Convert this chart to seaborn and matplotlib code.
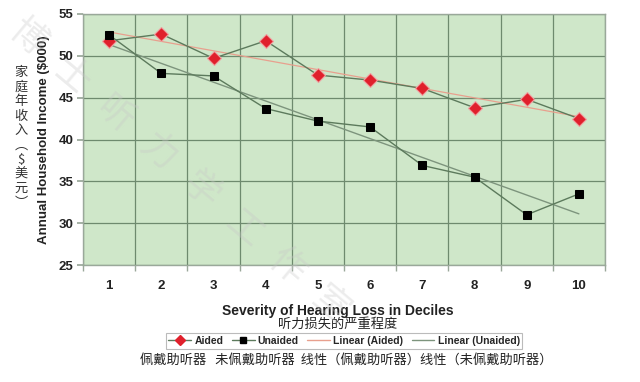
import matplotlib
matplotlib.use("Agg")
import matplotlib.pyplot as plt
from matplotlib.lines import Line2D
import seaborn as sns
import numpy as np
import pandas as pd

deciles = [1, 2, 3, 4, 5, 6, 7, 8, 9, 10]
aided = [51.8, 52.6, 49.7, 51.8, 47.7, 47.1, 46.1, 43.8, 44.8, 42.5]
unaided = [52.5, 47.9, 47.6, 43.7, 42.2, 41.5, 36.9, 35.5, 31.0, 33.5]
y_ticks = [25, 30, 35, 40, 45, 50, 55]

sns.set_theme(style="white")
plt.rcParams['font.family'] = ['Liberation Sans', 'Noto Sans CJK SC', 'DejaVu Sans']

df = pd.DataFrame({"decile": deciles, "Aided": aided, "Unaided": unaided})

fig = plt.figure(figsize=(6.4, 3.82), dpi=100)
ax = fig.add_axes([83/640, 1-265/382, (605-83)/640, (265-14)/382])
ax.set_facecolor("#cfe7c9")

line_col = "#5c7a5c"
red = "#e0202c"
pink = "#e8a08e"
trend_col = "#7d947d"

sns.regplot(data=df, x="decile", y="Aided", ax=ax, scatter=False, ci=None,
            line_kws=dict(color=pink, lw=0.9, zorder=2))
sns.regplot(data=df, x="decile", y="Unaided", ax=ax, scatter=False, ci=None,
            line_kws=dict(color=trend_col, lw=1.0, zorder=2))
sns.lineplot(data=df, x="decile", y="Aided", ax=ax, color=line_col, lw=1.0,
             marker="D", markersize=7.5, markerfacecolor=red,
             markeredgecolor="#f0a0a0", markeredgewidth=0.8, zorder=3)
sns.lineplot(data=df, x="decile", y="Unaided", ax=ax, color=line_col, lw=1.0,
             marker="s", markersize=5.5, markerfacecolor="black",
             markeredgecolor="black", zorder=3)

ax.set_xlim(0.5, 10.5)
ax.set_ylim(25, 55)
ax.set_yticks(y_ticks)
ax.set_xticks(deciles)
ax.set_xticks(np.arange(0.5, 11, 1), minor=True)
ax.grid(False)
ax.grid(True, which="minor", axis="x", color="#6e8a6e", lw=0.9)
ax.grid(True, which="major", axis="y", color="#6e8a6e", lw=0.9)
ax.set_axisbelow(True)
for s in ax.spines.values():
    s.set_color("#9aa89a")
    s.set_linewidth(1.0)
ax.tick_params(axis="x", which="major", length=0, pad=11)
ax.tick_params(axis="x", which="minor", length=4, color="#9aa89a", bottom=True)
ax.tick_params(axis="y", length=4, color="#9aa89a", left=True, pad=3)
for lab in ax.get_xticklabels() + ax.get_yticklabels():
    lab.set_fontweight("bold")
    lab.set_fontsize(9.5)
    lab.set_color("#222222")

ax.set_xlabel("")
ax.set_ylabel("Annual Household Income ($000)", fontsize=9.5, fontweight="bold",
              color="#222222", labelpad=6)

fig.text(338/640, 1-311/382, "Severity of Hearing Loss in Deciles", ha="center",
         va="center", fontsize=10, fontweight="bold", color="#222222")
fig.text(338/640, 1-324/382, "听力损失的严重程度", ha="center", va="center",
         fontsize=9.5, color="#222222", family=['Noto Sans CJK SC', 'DejaVu Sans'])

handles = [
    Line2D([], [], color=line_col, lw=1, marker="D", markersize=5,
           markerfacecolor=red, markeredgecolor=red),
    Line2D([], [], color=line_col, lw=1, marker="s", markersize=4.5,
           markerfacecolor="black", markeredgecolor="black"),
    Line2D([], [], color=pink, lw=1),
    Line2D([], [], color=trend_col, lw=1),
]
labels = ["Aided", "Unaided", "Linear (Aided)", "Linear (Unaided)"]
leg = fig.legend(handles, labels, loc="center", bbox_to_anchor=(344/640, 1-341/382),
                 ncol=4, frameon=True, fancybox=False,
                 prop=dict(weight="bold", size=7.5), handlelength=2.2,
                 handletextpad=0.3, columnspacing=0.8, borderpad=0.25,
                 edgecolor="#aaaaaa")
leg.get_frame().set_linewidth(0.8)

fig.text(346/640, 1-360/382,
         "佩戴助听器   未佩戴助听器  线性（佩戴助听器）线性（未佩戴助听器）",
         ha="center", va="center", fontsize=9.5, color="#222222",
         family=['Noto Sans CJK SC', 'DejaVu Sans'])

fig.text(21/640, 1-138/382, "家\n庭\n年\n收\n入\n︵\n$\n美\n元\n︶", ha="center",
         va="center", fontsize=9.5, color="#333333", linespacing=1.15,
         family=['Noto Sans CJK SC', 'DejaVu Sans'])

# faint diagonal watermark
wm = "博士听力学工作室"
x0, y0, x1, y1 = 28, 38, 330, 305
for i, ch in enumerate(wm):
    t = i / (len(wm) - 1)
    fig.text((x0 + t*(x1-x0))/640, 1-(y0 + t*(y1-y0))/382, ch, ha="center",
             va="center", fontsize=26, rotation=-40, color="#c8c8c8", alpha=0.35,
             zorder=10, family=['Noto Sans CJK SC', 'DejaVu Sans'])

fig.savefig("out.png", dpi=100)
